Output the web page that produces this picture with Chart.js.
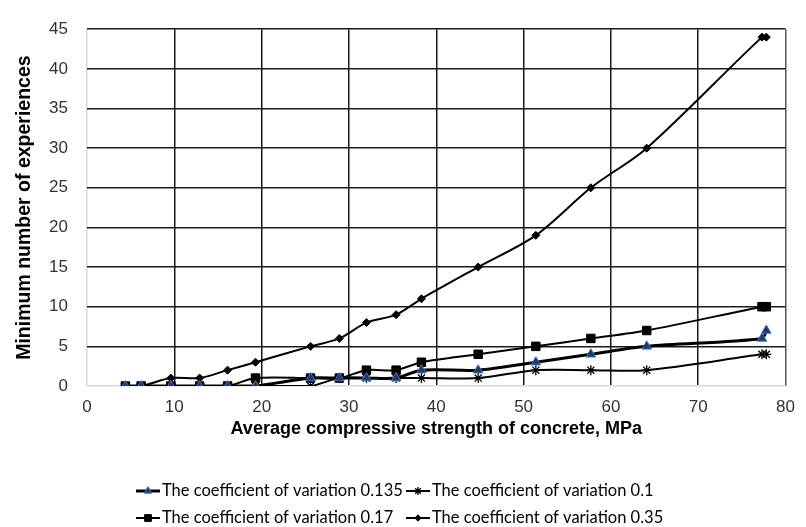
<!DOCTYPE html>
<html>
<head>
<meta charset="utf-8">
<script src="https://cdn.jsdelivr.net/npm/chart.js@4.4.1/dist/chart.umd.min.js"></script>
<style>
  html, body { margin: 0; padding: 0; background: #fff; }
</style>
</head>
<body>
<canvas id="strengthChart" width="806" height="527"></canvas>
<script>
// average compressive strength, MPa
const strength = [4.4, 6.2, 9.6, 12.9, 16.1, 19.3, 25.6, 28.9, 32.0, 35.4, 38.3, 44.8, 51.4, 57.7, 64.1, 77.3, 77.8];
// minimum number of experiences per coefficient of variation
const cv0135 = [0, 0, 0, 0, 0, 0, 1, 1, 1, 1, 2, 2, 3, 4, 5, 6, 7];
const cv010 = [0, 0, 0, 0, 0, 0, 0, 1, 1, 1, 1, 1, 2, 2, 2, 4, 4];
const cv017 = [0, 0, 0, 0, 0, 1, 1, 1, 2, 2, 3, 4, 5, 6, 7, 10, 10];
const cv035 = [0, 0, 1, 1, 2, 3, 5, 6, 8, 9, 11, 15, 19, 25, 30, 44, 44];
const seriesNames = [
  "The coefficient of variation 0.135",
  "The coefficient of variation 0.1",
  "The coefficient of variation 0.17",
  "The coefficient of variation 0.35",
];

function toPoints(values) {
  return values.map((v, i) => ({ x: strength[i], y: v }));
}

const tickFont = { family: "Liberation Sans, Arial, sans-serif", size: 17 };

// legend below the plot, two columns like the original
const legendBelow = {
  id: "legendBelow",
  afterDraw(chart) {
    const ctx = chart.ctx;
    const cols = [136, 406];
    const rows = [491, 518];
    ctx.save();
    ctx.font = "16.5px Lato, 'Open Sans', sans-serif";
    ctx.textBaseline = "middle";
    ctx.textAlign = "left";
    chart.data.datasets.forEach((ds, i) => {
      const x = cols[i % 2];
      const y = rows[Math.floor(i / 2)];
      ctx.strokeStyle = "#000";
      ctx.lineWidth = ds.borderWidth;
      ctx.beginPath();
      ctx.moveTo(x, y);
      ctx.lineTo(x + 24, y);
      ctx.stroke();
      ctx.fillStyle = ds.pointBackgroundColor;
      ctx.strokeStyle = ds.pointBorderColor;
      ctx.lineWidth = ds.pointBorderWidth;
      if (Chart.helpers && Chart.helpers.drawPoint) {
        Chart.helpers.drawPoint(ctx, {
          pointStyle: ds.pointStyle,
          radius: ds.pointRadius * 0.8,
          rotation: 0,
          borderWidth: ds.pointBorderWidth,
        }, x + 12, y);
      }
      ctx.fillStyle = "#000";
      ctx.fillText(ds.label, x + 26, y);
    });
    ctx.restore();
  },
};

new Chart("strengthChart", {
  type: "line",
  data: {
    datasets: [
      {
        label: seriesNames[0],
        data: toPoints(cv0135),
        borderColor: "#000",
        borderWidth: 3,
        pointStyle: "triangle",
        pointRadius: 5.5,
        pointBackgroundColor: "#1f3864",
        pointBorderColor: "#4472c4",
        pointBorderWidth: 1,
      },
      {
        label: seriesNames[1],
        data: toPoints(cv010),
        borderColor: "#000",
        borderWidth: 2,
        pointStyle: "star",
        pointRadius: 5,
        pointBackgroundColor: "#000",
        pointBorderColor: "#000",
        pointBorderWidth: 1.3,
      },
      {
        label: seriesNames[2],
        data: toPoints(cv017),
        borderColor: "#000",
        borderWidth: 2,
        pointStyle: "rect",
        pointRadius: 6,
        pointBackgroundColor: "#000",
        pointBorderColor: "#000",
        pointBorderWidth: 1,
      },
      {
        label: seriesNames[3],
        data: toPoints(cv035),
        borderColor: "#000",
        borderWidth: 2,
        pointStyle: "rectRot",
        pointRadius: 4,
        pointBackgroundColor: "#000",
        pointBorderColor: "#000",
        pointBorderWidth: 1,
      },
    ],
  },
  options: {
    responsive: false,
    animation: false,
    layout: { padding: { top: 16, right: 12, bottom: 87, left: 0 } },
    elements: { line: { tension: 0.3 } },
    plugins: {
      legend: { display: false },
      tooltip: { enabled: false },
    },
    scales: {
      x: {
        type: "linear",
        min: 0,
        max: 80,
        ticks: { stepSize: 10, font: tickFont, color: "#333", padding: 11 },
        grid: {
          drawTicks: false,
          lineWidth: 1.5,
          color: (c) => (c.tick.value === 0 ? "#d9d9d9" : c.tick.value === 80 ? "#555" : "#1a1a1a"),
        },
        border: { display: false },
        title: {
          display: true,
          text: "Average compressive strength of concrete, MPa",
          font: { family: "Liberation Sans, Arial, sans-serif", size: 18, weight: "bold" },
          color: "#000",
          padding: { top: 3, bottom: 0 },
        },
        afterFit(scale) {
          scale.height = 54;
        },
      },
      y: {
        min: 0,
        max: 45,
        ticks: { stepSize: 5, font: tickFont, color: "#333", padding: 19 },
        grid: {
          drawTicks: false,
          lineWidth: 1.5,
          color: (c) => (c.tick.value === 0 ? "#d9d9d9" : "#1a1a1a"),
        },
        border: { display: false },
        title: {
          display: true,
          text: "Minimum number of experiences",
          font: { family: "Liberation Sans, Arial, sans-serif", size: 19.5, weight: "bold" },
          color: "#000",
          padding: { top: 13, bottom: 0 },
        },
        afterFit(scale) {
          scale.width = 87;
        },
      },
    },
  },
  plugins: [legendBelow],
});
</script>
</body>
</html>
